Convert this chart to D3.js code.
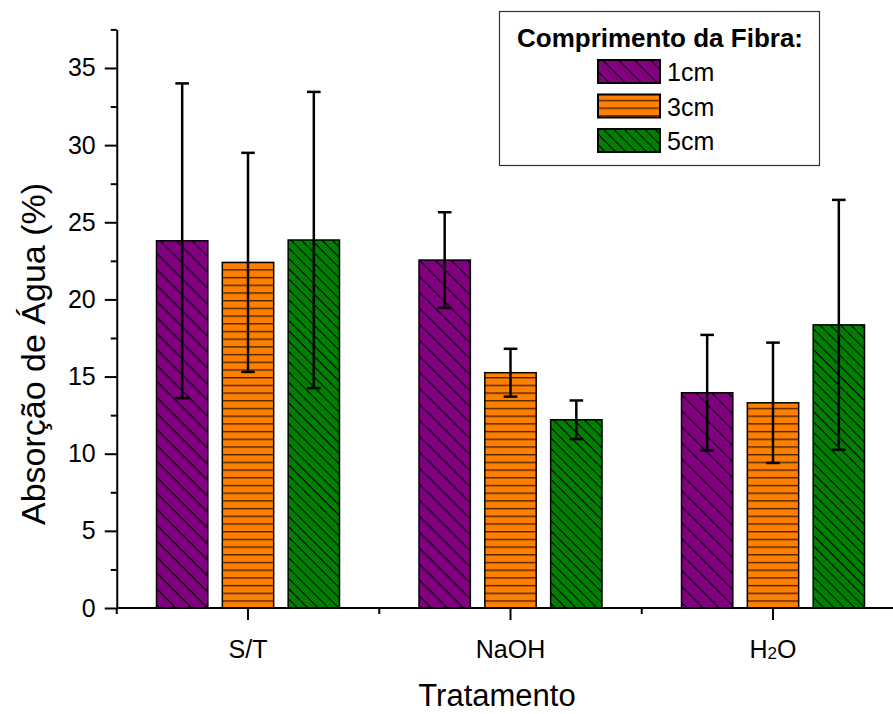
<!DOCTYPE html>
<html>
<head>
<meta charset="utf-8">
<script src="https://cdn.jsdelivr.net/npm/d3@7"></script>
<style>
  html, body { margin: 0; padding: 0; background: #fff; }
  svg { display: block; font-family: "Liberation Sans", Arial, sans-serif; }
</style>
</head>
<body>
<svg id="chart" width="893" height="714"></svg>
<script>
// Water absorption by treatment and fibre length
const categories = ["S/T", "NaOH", "H2O"];
const series = ["1cm", "3cm", "5cm"];
const values1cm = [23.8, 22.55, 13.95];
const values3cm = [22.4, 15.25, 13.3];
const values5cm = [23.85, 12.2, 18.35];
const errors1cm = [10.2, 3.1, 3.75];
const errors3cm = [7.1, 1.55, 3.9];
const errors5cm = [9.6, 1.25, 8.1];
const yTicks = [0, 5, 10, 15, 20, 25, 30, 35];
const yMinorTicks = [2.5, 7.5, 12.5, 17.5, 22.5, 27.5, 32.5, 37.5];

const seriesValues = [values1cm, values3cm, values5cm];
const seriesErrors = [errors1cm, errors3cm, errors5cm];
const fills = ["#800080", "#ff8000", "#008000"];
const patternIds = ["hatch1", "hatch3", "hatch5"];

const svg = d3.select("#chart");

const y = d3.scaleLinear().domain([0, 37.5]).range([608, 29.4]);
const x = d3.scalePoint().domain(categories).range([248, 773]);
const step = x.step();
const xInner = d3.scaleBand().domain(series).range([-91.5, 91.5]).paddingInner(0.22);

// Fill patterns
const defs = svg.append("defs");
function diagPattern(id, color, spacing) {
  const p = defs.append("pattern")
    .attr("id", id)
    .attr("patternUnits", "userSpaceOnUse")
    .attr("width", spacing).attr("height", spacing)
    .attr("patternTransform", "rotate(45)");
  p.append("rect").attr("width", spacing).attr("height", spacing).attr("fill", color);
  p.append("line").attr("x1", 0).attr("x2", spacing).attr("y1", 0.5).attr("y2", 0.5)
    .attr("stroke", "#000").attr("stroke-width", 1.1);
}
function horizPattern(id, color, spacing) {
  const p = defs.append("pattern")
    .attr("id", id)
    .attr("patternUnits", "userSpaceOnUse")
    .attr("width", 20).attr("height", spacing)
    .attr("y", 608 % spacing);
  p.append("rect").attr("width", 20).attr("height", spacing).attr("fill", color);
  p.append("line").attr("x1", 0).attr("x2", 20).attr("y1", 0.7).attr("y2", 0.7)
    .attr("stroke", "#4a2400").attr("stroke-width", 1.4);
}
diagPattern("hatch1", fills[0], 11.3);
horizPattern("hatch3", fills[1], 7.7);
diagPattern("hatch5", fills[2], 7.3);

// Bars
const rows = [];
categories.forEach((c, i) => {
  series.forEach((s, j) => {
    rows.push({ cat: c, ser: s, j, v: seriesValues[j][i], e: seriesErrors[j][i] });
  });
});

svg.append("g").selectAll("rect").data(rows).join("rect")
  .attr("x", d => x(d.cat) + xInner(d.ser))
  .attr("y", d => y(d.v))
  .attr("width", xInner.bandwidth())
  .attr("height", d => y(0) - y(d.v))
  .attr("fill", d => `url(#${patternIds[d.j]})`)
  .attr("stroke", "#000")
  .attr("stroke-width", 1.5);

// Error bars
const eb = svg.append("g").attr("stroke", "#000").attr("stroke-width", 2.5);
const capW = 6.8;
rows.forEach(d => {
  const cx = x(d.cat) + xInner(d.ser) + xInner.bandwidth() / 2;
  eb.append("line").attr("x1", cx).attr("x2", cx).attr("y1", y(d.v + d.e)).attr("y2", y(d.v - d.e));
  eb.append("line").attr("x1", cx - capW).attr("x2", cx + capW).attr("y1", y(d.v + d.e)).attr("y2", y(d.v + d.e));
  eb.append("line").attr("x1", cx - capW).attr("x2", cx + capW).attr("y1", y(d.v - d.e)).attr("y2", y(d.v - d.e));
});

// Y axis
const yAxis = svg.append("g").attr("transform", `translate(${x(categories[0]) - step / 2},0)`);
yAxis.call(d3.axisLeft(y).tickValues(yTicks).tickSize(12).tickSizeOuter(0).tickPadding(9));
yAxis.append("g").call(d3.axisLeft(y).tickValues(yMinorTicks).tickSize(6).tickFormat("").tickSizeOuter(0))
  .select(".domain").remove();
yAxis.selectAll("path, line").attr("stroke", "#000").attr("stroke-width", 2);
yAxis.selectAll("text").attr("font-size", 25).attr("fill", "#000")
  .attr("font-family", "Liberation Sans, Arial, sans-serif");

// X axis
const xAxisG = svg.append("g").attr("transform", `translate(0,${y(0)})`);
xAxisG.append("line")
  .attr("x1", x(categories[0]) - step / 2).attr("x2", 893)
  .attr("stroke", "#000").attr("stroke-width", 2);
xAxisG.selectAll("line.major").data(categories).join("line")
  .attr("class", "major")
  .attr("x1", d => x(d)).attr("x2", d => x(d))
  .attr("y1", 0).attr("y2", 12)
  .attr("stroke", "#000").attr("stroke-width", 2);
const minorX = categories.map(c => x(c) - step / 2).concat([x(categories[2]) + step / 2]);
xAxisG.selectAll("line.minor").data(minorX).join("line")
  .attr("class", "minor")
  .attr("x1", d => d).attr("x2", d => d)
  .attr("y1", 0).attr("y2", 6)
  .attr("stroke", "#000").attr("stroke-width", 2);
const xl = xAxisG.selectAll("text.tick").data(categories).join("text")
  .attr("class", "tick")
  .attr("x", d => x(d)).attr("y", 50)
  .attr("text-anchor", "middle")
  .attr("font-size", 25).attr("fill", "#000");
xl.each(function (d) {
  const t = d3.select(this);
  if (d === "H2O") {
    t.append("tspan").text("H");
    t.append("tspan").attr("font-size", 17).attr("dy", 1).text("2");
    t.append("tspan").attr("dy", -1).text("O");
  } else {
    t.text(d);
  }
});

// Axis titles
svg.append("text")
  .attr("x", 497).attr("y", 706)
  .attr("text-anchor", "middle")
  .attr("font-size", 31).attr("fill", "#000")
  .text("Tratamento");
svg.append("text")
  .attr("transform", "translate(45,354) rotate(-90)")
  .attr("text-anchor", "middle")
  .attr("font-size", 34).attr("fill", "#000")
  .text("Absorção de Água (%)");

// Legend
const lg = svg.append("g");
lg.append("rect").attr("x", 499.5).attr("y", 11.5).attr("width", 320).attr("height", 154)
  .attr("fill", "#fff").attr("stroke", "#333").attr("stroke-width", 1.2);
lg.append("text").attr("x", 660).attr("y", 47).attr("text-anchor", "middle")
  .attr("font-size", 26).attr("font-weight", "bold").attr("fill", "#000")
  .text("Comprimento da Fibra:");
const legendY = d3.scalePoint().domain(series).range([60, 129]);
series.forEach((s, j) => {
  lg.append("rect").attr("x", 598).attr("y", legendY(s)).attr("width", 62).attr("height", 23)
    .attr("fill", `url(#${patternIds[j]})`).attr("stroke", "#000").attr("stroke-width", 2);
  lg.append("text").attr("x", 667).attr("y", legendY(s) + 21)
    .attr("font-size", 25).attr("fill", "#000").text(s);
});
</script>
</body>
</html>
